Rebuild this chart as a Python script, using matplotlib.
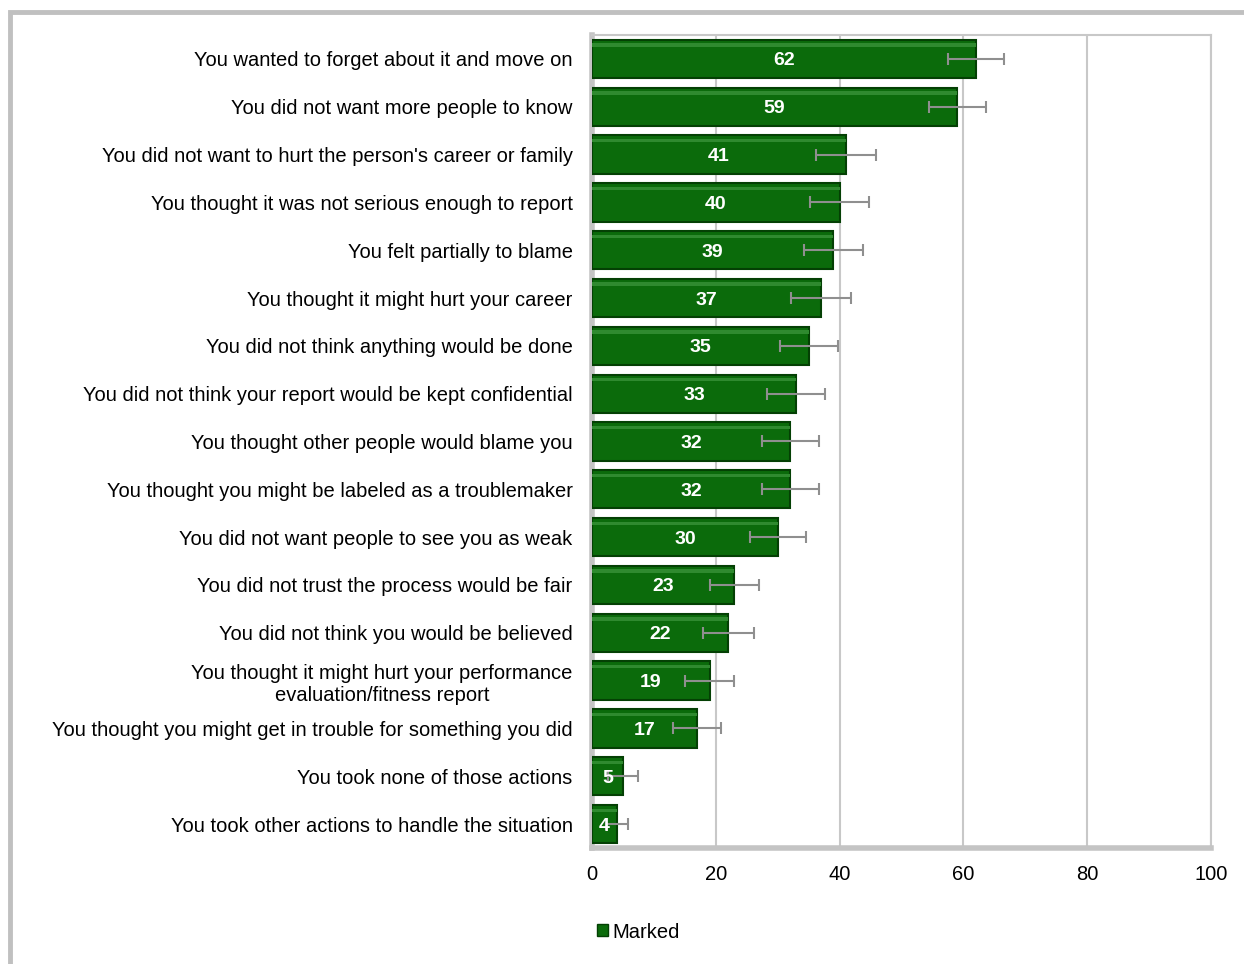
import matplotlib.pyplot as plt
import numpy as np
from matplotlib.patches import Rectangle, Patch

plt.rcParams['font.family'] = ['Liberation Sans', 'DejaVu Sans']

labels = [
    "You wanted to forget about it and move on",
    "You did not want more people to know",
    "You did not want to hurt the person's career or family",
    "You thought it was not serious enough to report",
    "You felt partially to blame",
    "You thought it might hurt your career",
    "You did not think anything would be done",
    "You did not think your report would be kept confidential",
    "You thought other people would blame you",
    "You thought you might be labeled as a troublemaker",
    "You did not want people to see you as weak",
    "You did not trust the process would be fair",
    "You did not think you would be believed",
    "You thought it might hurt your performance\nevaluation/fitness report",
    "You thought you might get in trouble for something you did",
    "You took none of those actions",
    "You took other actions to handle the situation",
]
marked = [62, 59, 41, 40, 39, 37, 35, 33, 32, 32, 30, 23, 22, 19, 17, 5, 4]
margin = [4.5, 4.6, 4.8, 4.8, 4.8, 4.8, 4.7, 4.7, 4.6, 4.6, 4.5, 4.0, 4.1, 3.9, 3.9, 2.4, 1.8]

green = '#0b6b0b'

fig = plt.figure(figsize=(12.44, 9.64), dpi=100)
ax = fig.add_axes([592 / 1244, 1 - 848 / 964, (1211 - 592) / 1244, (848 - 35) / 964])

y = np.arange(len(labels))
ax.barh(y, marked, height=0.8, color=green, edgecolor='#044004', linewidth=1.5, zorder=3)
# subtle lighter strip near the top of each bar for the bevel look
ax.barh(y - 0.29, marked, height=0.07, color='#2f8a2f', linewidth=0, zorder=3.5)
ax.errorbar(marked, y, xerr=margin, fmt='none', ecolor='#8f8f8f', elinewidth=1.5,
            capsize=4, capthick=1.5, zorder=4)

for yi, v in zip(y, marked):
    ax.text(v / 2, yi, str(v), ha='center', va='center_baseline', color='white',
            fontsize=14, fontweight='bold', zorder=5)

ax.set_xlim(0, 100)
ax.set_ylim(len(labels) - 0.5, -0.5)
ax.set_xticks([0, 20, 40, 60, 80, 100])
ax.set_yticks(y)
ax.set_yticklabels(labels, fontsize=14.5, multialignment='center')
ax.tick_params(axis='y', length=0, pad=14)
ax.tick_params(axis='x', length=0, pad=12, labelsize=14.5)
ax.grid(axis='x', color='#c8c8c8', linewidth=1.5, zorder=0)

for side in ['left', 'bottom']:
    ax.spines[side].set_color('#c4c4c4')
    ax.spines[side].set_linewidth(4)
for side in ['top', 'right']:
    ax.spines[side].set_color('#c8c8c8')
    ax.spines[side].set_linewidth(1.5)

ax.legend(handles=[Patch(facecolor=green, edgecolor='#044004')], labels=['Marked'],
          loc='center left', bbox_to_anchor=(587 / 1244, 1 - 932 / 964),
          bbox_transform=fig.transFigure, frameon=False, fontsize=14.5,
          handlelength=0.55, handleheight=0.55, handletextpad=0.2, borderpad=0)

fig.patches.append(Rectangle((10 / 1244, -0.1), 1.2, 1.1 - 12 / 964, transform=fig.transFigure,
                             fill=False, edgecolor='#c0c0c0', linewidth=3.5, zorder=0))

fig.savefig('out.png', dpi=100)
